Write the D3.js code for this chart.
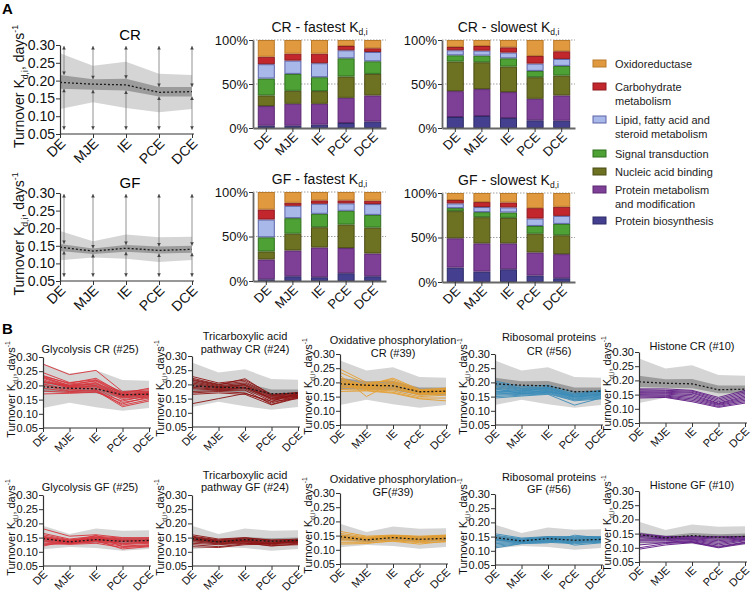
<!DOCTYPE html>
<html><head><meta charset="utf-8">
<script src="https://cdn.jsdelivr.net/npm/d3@7"></script>
<style>
body{margin:0;background:#fff}
svg{font-family:"Liberation Sans",Arial,Helvetica,sans-serif}
</style>
</head><body><svg id="c" width="753" height="599"></svg>
<script>
// ---------------- DATA ----------------
const stages = ["DE","MJE","IE","PCE","DCE"];
const turnoverTicks = [0.05,0.10,0.15,0.20,0.25,0.30];
const pctTicks = [0,50,100];

// background distribution bands (turnover, days^-1)
const crLightHi = [0.277,0.242,0.253,0.219,0.216];
const crLightLo = [0.120,0.139,0.123,0.111,0.120];
const crDarkHi  = [0.216,0.204,0.205,0.182,0.182];
const crDarkLo  = [0.177,0.174,0.172,0.155,0.155];
const crMedian  = [0.195,0.190,0.188,0.167,0.169];
const gfLightHi = [0.192,0.163,0.182,0.174,0.176];
const gfLightLo = [0.109,0.117,0.113,0.104,0.110];
const gfDarkHi  = [0.155,0.142,0.152,0.148,0.150];
const gfDarkLo  = [0.135,0.127,0.133,0.128,0.130];
const gfMedian  = [0.146,0.135,0.143,0.137,0.140];
const arrowTop = 0.297, arrowBottom = 0.062;

// protein classes (stack order bottom -> top)
const categories = ["Protein biosynthesis","Protein metabolism and modification","Nucleic acid binding","Signal transduction","Lipid, fatty acid and steroid metabolism","Carbohydrate metabolism","Oxidoreductase"];
const categoryLines = [["Protein biosynthesis"],["Protein metabolism","and modification"],["Nucleic acid binding"],["Signal transduction"],["Lipid, fatty acid and","steroid metabolism"],["Carbohydrate","metabolism"],["Oxidoreductase"]];
const categoryFill   = ["#44408f","#7e3f97","#6d7122","#4ea135","#a8b8e8","#c1272d","#e0993e"];
const categoryStroke = ["#2c2a66","#5a2870","#4a4d14","#2f6e1e","#5d63a8","#8f1a1f","#b97a2a"];

// percentages per stage, in category order
const crFastest = [[2.6,22.3,12.1,19.2,16.3,8.5,19.0],[2.6,24.9,14.8,19.2,15.1,7.9,15.5],[3.8,23.7,14.4,15.8,15.9,10.9,15.5],[5.7,28.6,24.2,20.7,9.1,4.9,6.8],[7.2,29.8,24.5,14.3,10.6,4.2,9.4]];
const crSlowest = [[12.5,29.4,33.6,7.1,5.7,3.8,7.9],[13.6,30.6,30.5,7.6,5.6,5.3,6.8],[11.3,29.5,29.0,9.4,6.5,6.0,8.3],[8.7,24.5,24.5,7.2,8.3,8.7,18.1],[8.3,28.7,22.6,11.0,7.9,8.7,12.8]];
const gfFastest = [[1.9,22.3,9.0,15.9,20.0,11.3,19.6],[5.3,29.0,18.9,17.4,13.9,3.4,12.1],[4.2,33.5,22.7,15.1,11.3,3.8,9.4],[8.7,28.3,26.4,15.5,8.3,3.4,9.4],[5.3,25.6,29.1,14.3,12.1,3.8,9.8]];
const gfSlowest = [[16.2,32.9,30.5,3.4,5.3,3.8,7.9],[11.7,31.7,29.4,5.7,5.7,5.6,10.2],[14.3,29.1,28.7,6.0,5.7,5.6,10.6],[7.2,26.0,21.1,8.7,8.3,11.7,17.0],[4.2,27.1,21.2,12.8,9.0,10.2,15.5]];

// individual protein turnover profiles (DE, MJE, IE, PCE, DCE)
const glycolysisCR = [[0.275,0.238,0.253,0.178,0.185],[0.245,0.21,0.22,0.175,0.18],[0.235,0.205,0.215,0.17,0.178],[0.23,0.2,0.21,0.165,0.175],[0.228,0.198,0.205,0.16,0.17],[0.225,0.195,0.2,0.158,0.168],[0.22,0.192,0.198,0.155,0.165],[0.215,0.19,0.195,0.15,0.16],[0.21,0.2,0.218,0.168,0.172],[0.205,0.185,0.19,0.14,0.155],[0.2,0.18,0.185,0.13,0.15],[0.19,0.178,0.182,0.125,0.145],[0.18,0.175,0.178,0.135,0.16],[0.17,0.172,0.176,0.145,0.165],[0.232,0.208,0.225,0.172,0.19],[0.212,0.196,0.208,0.162,0.176]];
const tcaCR = [[0.228,0.205,0.215,0.165,0.17],[0.222,0.2,0.21,0.16,0.168],[0.218,0.198,0.22,0.162,0.172],[0.215,0.195,0.205,0.158,0.165],[0.21,0.192,0.2,0.155,0.162],[0.205,0.19,0.198,0.15,0.16],[0.2,0.188,0.195,0.148,0.158],[0.195,0.185,0.19,0.145,0.155],[0.19,0.182,0.188,0.152,0.162],[0.185,0.18,0.185,0.14,0.15],[0.175,0.178,0.18,0.13,0.155],[0.17,0.175,0.17,0.135,0.158],[0.132,0.15,0.168,0.14,0.17],[0.165,0.17,0.165,0.128,0.152]];
const oxphosCR = [[0.247,0.2,0.205,0.17,0.175],[0.235,0.195,0.21,0.172,0.18],[0.225,0.15,0.2,0.165,0.17],[0.215,0.19,0.195,0.17,0.172],[0.21,0.188,0.19,0.165,0.168],[0.205,0.185,0.188,0.16,0.165],[0.2,0.182,0.185,0.158,0.162],[0.195,0.18,0.18,0.155,0.16],[0.19,0.178,0.175,0.16,0.165],[0.185,0.175,0.17,0.15,0.155],[0.18,0.19,0.215,0.175,0.178],[0.175,0.172,0.165,0.145,0.145],[0.168,0.17,0.162,0.142,0.135],[0.198,0.192,0.2,0.168,0.17]];
const ribosomalCR = [[0.205,0.185,0.19,0.165,0.17],[0.2,0.18,0.185,0.16,0.168],[0.195,0.178,0.182,0.158,0.165],[0.19,0.175,0.18,0.155,0.162],[0.185,0.172,0.178,0.152,0.16],[0.18,0.17,0.175,0.15,0.158],[0.175,0.168,0.172,0.148,0.155],[0.17,0.165,0.17,0.145,0.152],[0.165,0.162,0.168,0.142,0.15],[0.16,0.16,0.165,0.14,0.148],[0.155,0.158,0.162,0.138,0.145],[0.15,0.155,0.16,0.135,0.142],[0.145,0.152,0.158,0.12,0.145],[0.168,0.17,0.18,0.15,0.16],[0.158,0.165,0.17,0.148,0.155],[0.178,0.16,0.165,0.155,0.172]];
const histoneCR = [[0.17,0.17,0.165,0.14,0.165],[0.167,0.165,0.162,0.135,0.16],[0.163,0.162,0.158,0.13,0.155],[0.16,0.158,0.155,0.125,0.15],[0.157,0.155,0.15,0.12,0.145],[0.153,0.152,0.145,0.118,0.14],[0.15,0.148,0.14,0.115,0.135],[0.146,0.145,0.135,0.112,0.13],[0.142,0.142,0.13,0.108,0.125],[0.138,0.14,0.125,0.105,0.12]];
const glycolysisGF = [[0.181,0.155,0.16,0.15,0.148],[0.165,0.145,0.155,0.148,0.15],[0.16,0.142,0.152,0.145,0.145],[0.155,0.14,0.15,0.142,0.142],[0.152,0.138,0.148,0.14,0.14],[0.148,0.136,0.145,0.138,0.138],[0.145,0.134,0.142,0.135,0.135],[0.142,0.132,0.14,0.13,0.132],[0.138,0.13,0.138,0.125,0.13],[0.135,0.128,0.135,0.12,0.125],[0.13,0.126,0.13,0.115,0.12],[0.125,0.13,0.14,0.11,0.118],[0.12,0.14,0.145,0.128,0.135],[0.15,0.135,0.158,0.118,0.122]];
const tcaGF = [[0.16,0.145,0.15,0.14,0.145],[0.155,0.142,0.148,0.142,0.142],[0.152,0.14,0.145,0.138,0.14],[0.15,0.138,0.142,0.135,0.138],[0.147,0.136,0.14,0.132,0.136],[0.145,0.135,0.138,0.13,0.135],[0.142,0.133,0.136,0.128,0.133],[0.14,0.13,0.135,0.125,0.13],[0.135,0.128,0.132,0.12,0.128],[0.13,0.125,0.13,0.122,0.125],[0.125,0.118,0.128,0.13,0.135],[0.118,0.115,0.125,0.128,0.14]];
const oxphosGF = [[0.165,0.148,0.152,0.148,0.152],[0.158,0.145,0.15,0.145,0.15],[0.152,0.142,0.148,0.142,0.148],[0.148,0.14,0.146,0.14,0.145],[0.145,0.138,0.144,0.138,0.142],[0.142,0.136,0.142,0.135,0.14],[0.138,0.134,0.14,0.132,0.138],[0.132,0.13,0.135,0.128,0.135],[0.125,0.125,0.13,0.12,0.13],[0.12,0.122,0.132,0.125,0.128]];
const ribosomalGF = [[0.16,0.145,0.15,0.15,0.15],[0.155,0.142,0.148,0.148,0.148],[0.15,0.14,0.146,0.145,0.146],[0.146,0.138,0.144,0.142,0.144],[0.142,0.136,0.142,0.14,0.142],[0.138,0.135,0.14,0.138,0.14],[0.135,0.133,0.138,0.135,0.138],[0.13,0.131,0.136,0.132,0.136],[0.125,0.13,0.134,0.13,0.134],[0.12,0.128,0.132,0.128,0.132],[0.115,0.126,0.13,0.125,0.13],[0.11,0.125,0.128,0.155,0.145],[0.14,0.13,0.145,0.12,0.128]];
const histoneGF = [[0.15,0.14,0.14,0.14,0.14],[0.145,0.138,0.138,0.135,0.138],[0.14,0.135,0.135,0.13,0.135],[0.135,0.132,0.132,0.125,0.132],[0.13,0.13,0.13,0.12,0.13],[0.125,0.125,0.128,0.115,0.128],[0.12,0.12,0.125,0.11,0.125],[0.11,0.118,0.122,0.105,0.12],[0.1,0.115,0.12,0.102,0.118],[0.095,0.11,0.118,0.1,0.115]];

// ---------------- DRAWING ----------------
const svg = d3.select("#c");
const defs = svg.append("defs");
const AX = "#333";
const crBand = {lh:crLightHi, ll:crLightLo, dh:crDarkHi, dl:crDarkLo, med:crMedian};
const gfBand = {lh:gfLightHi, ll:gfLightLo, dh:gfDarkHi, dl:gfDarkLo, med:gfMedian};
let pathId = 0;

function kLabel(t, fs){
  t.append("tspan").text("Turnover K");
  t.append("tspan").attr("font-size", fs*0.62).attr("dy", fs*0.3).text("d,i");
  t.append("tspan").attr("dy", -fs*0.3).text(", days");
  t.append("tspan").attr("font-size", fs*0.62).attr("dy", -fs*0.45).text("-1");
}

// 45-degree category labels set along a diagonal baseline (textPath)
function rotLabels(g, x, yBase, fs){
  stages.forEach(s=>{
    const id = "lp" + (pathId++);
    const ex = x(s) + fs*0.45, ey = yBase + fs*0.45, L = 60;
    defs.append("path").attr("id", id).attr("d", `M${ex - L*0.7071},${ey + L*0.7071}L${ex},${ey}`);
    g.append("text").attr("font-size", fs).attr("fill","#111")
      .append("textPath").attr("href", "#" + id).attr("startOffset","100%").attr("text-anchor","end").text(s);
  });
}

function styleAxis(g){
  g.select(".domain").attr("stroke",AX).attr("stroke-width",1.2);
  g.selectAll(".tick line").attr("stroke",AX);
}

function turnoverPlot(x0, x1, yTop, yBot, band, o){
  const g = svg.append("g");
  const x = d3.scalePoint(stages, [x0, x1]);
  const y = d3.scaleLinear([0.05, 0.30], [yBot, yTop]);
  const area = (hi, lo) => d3.area().x((d,i)=>x(stages[i])).y0((d,i)=>y(lo[i])).y1((d,i)=>y(hi[i]))(stages);
  g.append("path").attr("d", area(band.lh, band.ll)).attr("fill","#d5d5d5");
  g.append("path").attr("d", area(band.dh, band.dl)).attr("fill","#9c9c9c");
  if (o.arrows){
    stages.forEach((s,i)=>{
      const xx = x(s) + (i===0 ? 4 : 0);
      [[band.dh[i], arrowTop],[band.dl[i], arrowBottom]].forEach(([a,b])=>{
        g.append("line").attr("x1",xx).attr("x2",xx).attr("y1",y(a)).attr("y2",y(b))
          .attr("stroke","#777").attr("stroke-width",0.8);
        const ya_ = y(a), yb_ = y(b), up = yb_ < ya_;
        const head = (yy, dirUp) => g.append("path")
          .attr("d",`M${xx},${yy}L${xx-1.8},${yy+(dirUp?3.5:-3.5)}L${xx+1.8},${yy+(dirUp?3.5:-3.5)}Z`)
          .attr("fill","#444");
        head(yb_, up);
        head(ya_, !up);
      });
    });
  }
  if (o.lines){
    const line = d3.line().x((d,i)=>x(stages[i])).y(d=>y(d));
    g.selectAll(".pl").data(o.lines).join("path").attr("d", line)
      .attr("fill","none").attr("stroke", o.color).attr("stroke-width",1).attr("stroke-opacity",0.9);
  }
  const medLine = d3.line().x((d,i)=>x(stages[i])).y(d=>y(d));
  g.append("path").attr("d", medLine(band.med)).attr("fill","none").attr("stroke","#1a1a1a")
    .attr("stroke-width",1.3).attr("stroke-dasharray","2,2");

  const ya = g.append("g").attr("transform",`translate(${x0},0)`)
    .call(d3.axisLeft(y).tickValues(turnoverTicks).tickFormat(d3.format(".2f")).tickSize(4).tickSizeOuter(0));
  styleAxis(ya);
  ya.selectAll(".tick text").attr("font-size", o.fs).attr("fill","#111").attr("x",-5);
  const xa = g.append("g").attr("transform",`translate(0,${yBot})`)
    .call(d3.axisBottom(x).tickSize(4).tickSizeOuter(0).tickFormat(""));
  styleAxis(xa);
  xa.select(".domain").attr("d",`M${x0},0H${x1+2}`);
  rotLabels(g, x, yBot + 4, o.fs);

  const lab = g.append("text").attr("text-anchor","middle").attr("font-size", o.fs).attr("fill","#111")
    .attr("transform",`translate(${x0 - o.labOff},${(yTop+yBot)/2 - 3}) rotate(-90)`);
  kLabel(lab, o.fs);
  return g;
}

// Panel letters
svg.append("text").attr("x",2).attr("y",14).attr("font-size",15).attr("font-weight","bold").text("A");
svg.append("text").attr("x",2).attr("y",334).attr("font-size",15).attr("font-weight","bold").text("B");

// Panel A line plots
turnoverPlot(60, 192, 45, 134, crBand, {arrows:true, fs:14, labOff:36});
turnoverPlot(60, 192, 193, 281, gfBand, {arrows:true, fs:14, labOff:36});
svg.append("text").attr("x",130).attr("y",40).attr("text-anchor","middle").attr("font-size",15).text("CR");
svg.append("text").attr("x",130).attr("y",188).attr("text-anchor","middle").attr("font-size",15).text("GF");

// Stacked bars
function stacked(x0, x1, yTop, yBot, values, cond, kind){
  const g = svg.append("g");
  const rows = stages.map((s,i)=>{ const r={stage:s}; categories.forEach((c,j)=>r[c]=values[i][j]); return r; });
  const series = d3.stack().keys(categories).offset(d3.stackOffsetExpand)(rows);
  const x = d3.scaleBand(stages, [x0, x1]).paddingInner(0.36).paddingOuter(0.18);
  const y = d3.scaleLinear([0, 100], [yBot, yTop]);
  [50,100].forEach(v=>{
    g.append("line").attr("x1",x0).attr("x2",x1).attr("y1",y(v)).attr("y2",y(v))
      .attr("stroke","#888").attr("stroke-width",0.8).attr("stroke-dasharray","1.5,1.5");
  });
  g.selectAll(".s").data(series).join("g")
    .attr("fill",(d,i)=>categoryFill[i]).attr("stroke",(d,i)=>categoryStroke[i])
    .selectAll("rect").data(d=>d).join("rect")
    .attr("x",d=>x(d.data.stage)+0.5).attr("width",x.bandwidth()-1)
    .attr("y",d=>y(d[1]*100)+0.5).attr("height",d=>Math.max(0,y(d[0]*100)-y(d[1]*100)-1))
    .attr("stroke-width",1);
  const ya = g.append("g").attr("transform",`translate(${x0},0)`)
    .call(d3.axisLeft(y).tickValues(pctTicks).tickFormat(d=>d+"%").tickSize(4).tickSizeOuter(0));
  styleAxis(ya);
  ya.select(".domain").attr("stroke","#666").attr("stroke-width",1.8);
  ya.selectAll(".tick text").attr("font-size",13).attr("fill","#111").attr("x",-5);
  const xa = g.append("g").attr("transform",`translate(0,${yBot})`)
    .call(d3.axisBottom(x).tickSize(4).tickSizeOuter(0).tickFormat(""));
  styleAxis(xa);
  xa.select(".domain").attr("stroke","#666").attr("stroke-width",1.8);
  const xc = s => x(s) + x.bandwidth()/2;
  rotLabels(g, xc, yBot + 4, 13);
  const t = g.append("text").attr("x",(x0+x1)/2).attr("y",yTop-8).attr("text-anchor","middle").attr("font-size",14).attr("fill","#111");
  t.append("tspan").text(`${cond} - ${kind} K`);
  t.append("tspan").attr("font-size",8.5).attr("dy",3).text("d,i");
}
stacked(253, 386, 40, 128, crFastest, "CR", "fastest");
stacked(442, 575, 40, 128, crSlowest, "CR", "slowest");
stacked(253, 386, 192, 281, gfFastest, "GF", "fastest");
stacked(442, 575, 193, 282, gfSlowest, "GF", "slowest");

// Legend (top -> bottom = reverse stack order)
const legendY = [64, 87, 120, 154, 172, 190, 221];
categories.slice().reverse().forEach((c,k)=>{
  const j = categories.length-1-k;
  const yy = legendY[k];
  svg.append("rect").attr("x",593).attr("y",yy-4).attr("width",13).attr("height",7)
    .attr("fill",categoryFill[j]).attr("stroke",categoryStroke[j]).attr("stroke-width",1);
  const t = svg.append("text").attr("x",615).attr("y",yy+4).attr("font-size",11).attr("fill","#222");
  categoryLines[j].forEach((ln,m)=>t.append("tspan").attr("x",615).attr("dy",m===0?0:13.5).text(ln));
});

// Panel B
const bCols = [43, 192, 340, 495, 639];
const bTitleX = [90, 245, 393, 549, 692];
const bRows = [
  {tops:[357,356,354,354,352], band:crBand, cond:"CR",
   panels:[
    {lines:glycolysisCR, color:"#d8333b", title:["Glycolysis CR (#25)"], ty:[353]},
    {lines:tcaCR, color:"#8c1313", title:["Tricarboxylic acid","pathway CR (#24)"], ty:[340,353]},
    {lines:oxphosCR, color:"#e69d2c", title:["Oxidative phosphorylation","CR (#39)"], ty:[344,357]},
    {lines:ribosomalCR, color:"#3b8cb8", title:["Ribosomal proteins","CR (#56)"], ty:[341,355]},
    {lines:histoneCR, color:"#5e1784", title:["Histone CR (#10)"], ty:[350]}]},
  {tops:[495,495,493,494,491], band:gfBand, cond:"GF",
   panels:[
    {lines:glycolysisGF, color:"#d8333b", title:["Glycolysis GF (#25)"], ty:[491]},
    {lines:tcaGF, color:"#8c1313", title:["Tricarboxylic acid","pathway GF (#24)"], ty:[479,491]},
    {lines:oxphosGF, color:"#e69d2c", title:["Oxidative phosphorylation","GF(#39)"], ty:[483,496]},
    {lines:ribosomalGF, color:"#3b8cb8", title:["Ribosomal proteins","GF (#56)"], ty:[481,493]},
    {lines:histoneGF, color:"#5e1784", title:["Histone GF (#10)"], ty:[489]}]}
];
bRows.forEach(row=>{
  row.panels.forEach((p,i)=>{
    const top = row.tops[i];
    turnoverPlot(bCols[i], bCols[i]+106, top, top+71, row.band, {lines:p.lines, color:p.color, fs:11, labOff:28});
    p.title.forEach((ln,m)=>{
      svg.append("text").attr("x",bTitleX[i]).attr("y",p.ty[m]).attr("text-anchor","middle")
        .attr("font-size",11).attr("fill","#111").text(ln);
    });
  });
});
</script></body></html>
